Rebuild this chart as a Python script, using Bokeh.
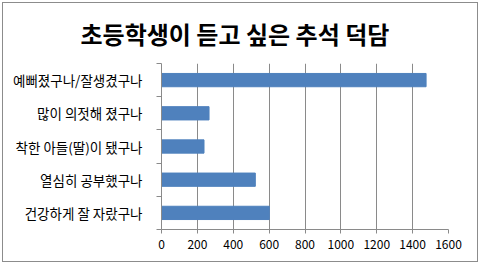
from bokeh.plotting import figure
from bokeh.models import FixedTicker, Title
from bokeh.embed import file_html
from bokeh.resources import INLINE

title_text = "초등학생이 듣고 싶은 추석 덕담"
categories = ["예뻐졌구나/잘생겼구나", "많이 의젓해 졌구나", "착한 아들(딸)이 됐구나", "열심히 공부했구나", "건강하게 잘 자랐구나"]
values = [1475, 265, 237, 523, 601]
x_ticks = [0, 200, 400, 600, 800, 1000, 1200, 1400, 1600]

n = len(categories)
ys = [n - 1 - i for i in range(n)]  # top-to-bottom order
FONT = "Noto Sans CJK KR"

p = figure(width=480, height=264, output_backend="svg", toolbar_location=None,
           x_range=(0, 1600), y_range=(-0.5, n - 0.5),
           min_border_left=161, min_border_right=32, min_border_top=0, min_border_bottom=35,
           background_fill_color="white", border_fill_color="white")
p.border_fill_alpha = 0
p.title = None
t = Title(text=title_text, align="left", offset=-81, text_font=FONT,
          text_font_size="24px", text_font_style="bold", text_color="#000000",
          standoff=26, vertical_align="bottom")
p.add_layout(t, "above")

p.hbar(y=ys, right=values, left=0, height=0.4, color="#4F81BD", line_color="#4F81BD")

p.outline_line_color = None
p.ygrid.visible = False
p.xgrid.grid_line_color = "#8a8a8a"
p.xgrid.grid_line_width = 1

p.xaxis.ticker = FixedTicker(ticks=x_ticks)
p.xaxis.major_label_text_font = FONT
p.xaxis.major_label_text_font_size = "12px"
p.xaxis.major_label_text_color = "#000000"
p.xaxis.axis_line_color = "#8a8a8a"
p.xaxis.major_tick_line_color = "#8a8a8a"
p.xaxis.major_tick_out = 4
p.xaxis.major_tick_in = 0
p.xaxis.minor_tick_line_color = None
p.xaxis.major_label_standoff = 6

p.yaxis.ticker = FixedTicker(ticks=ys, minor_ticks=[y + 0.5 for y in range(-1, n)])
p.yaxis.major_label_overrides = {y: c for y, c in zip(ys, categories)}
p.yaxis.major_label_text_font = FONT
p.yaxis.major_label_text_font_size = "13.5px"
p.yaxis.major_label_text_color = "#000000"
p.yaxis.axis_line_color = "#8a8a8a"
p.yaxis.major_tick_line_color = None
p.yaxis.minor_tick_line_color = "#8a8a8a"
p.yaxis.minor_tick_out = 5
p.yaxis.minor_tick_in = 0
p.yaxis.major_label_standoff = 13

p.styles = {"background": "white",
            "box-shadow": "inset 0 0 0 2px white, inset 0 0 0 3px #8c8c8c"}

open("out.html", "w").write(file_html(p, INLINE))
